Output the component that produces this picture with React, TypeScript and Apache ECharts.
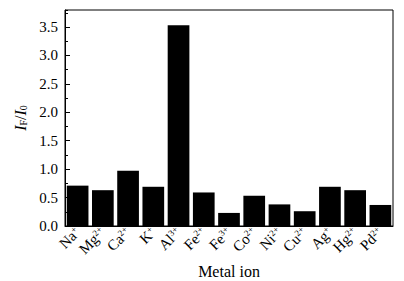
import React, { useEffect, useRef } from "react";
import * as echarts from "echarts";

const ions = ["Na", "Mg", "Ca", "K", "Al", "Fe", "Fe", "Co", "Ni", "Cu", "Ag", "Hg", "Pd"];
const charges = ["+", "2+", "2+", "+", "3+", "2+", "3+", "2+", "2+", "2+", "+", "2+", "2+"];
const ratios = [0.71, 0.63, 0.97, 0.69, 3.53, 0.59, 0.23, 0.53, 0.38, 0.26, 0.69, 0.63, 0.37];
const yMax = 3.8;

const FONT = "'Liberation Serif', 'DejaVu Serif', serif";

export default function App() {
  const ref = useRef<HTMLDivElement>(null);
  useEffect(() => {
    if (!ref.current) return;
    const chart = echarts.init(ref.current, undefined, { renderer: "svg" });
    const cats = ions.map((n, i) => `${n}|${charges[i]}`);
    chart.setOption({
      animation: false,
      grid: {
        left: 65, right: 11, top: 10, bottom: 55,
        show: true, borderColor: "#000", borderWidth: 1,
        containLabel: false, outerBoundsMode: "none",
      },
      xAxis: {
        type: "category",
        data: cats,
        name: "Metal ion",
        nameLocation: "middle",
        nameGap: 35,
        nameTextStyle: { fontFamily: FONT, fontSize: 16, color: "#000" },
        axisLine: { lineStyle: { color: "#000", width: 1 } },
        axisTick: { show: false },
        axisLabel: {
          rotate: 45,
          margin: 4,
          interval: 0,
          fontFamily: FONT,
          fontSize: 15,
          color: "#000",
          formatter: (v: string) => {
            const [n, c] = v.split("|");
            return `{b|${n}}{s|${c}}`;
          },
          rich: {
            b: { fontFamily: FONT, fontSize: 15, color: "#000", verticalAlign: "bottom" },
            s: { fontFamily: FONT, fontSize: 9, color: "#000", verticalAlign: "top" },
          },
        },
      },
      yAxis: [
        {
          type: "value",
          min: 0,
          max: yMax,
          interval: 0.5,
          name: "{i|I}{sb|F}{n|/}{i|I}{sb|0}",
          nameLocation: "middle",
          nameGap: 35,
          nameRotate: 90,
          nameTextStyle: {
            rich: {
              i: { fontFamily: FONT, fontSize: 16, fontStyle: "italic", color: "#000", verticalAlign: "top" },
              n: { fontFamily: FONT, fontSize: 16, color: "#000", verticalAlign: "top" },
              sb: { fontFamily: FONT, fontSize: 10, color: "#000", verticalAlign: "bottom" },
            },
          },
          axisLine: { show: true, lineStyle: { color: "#000", width: 1 } },
          axisTick: { show: true, inside: true, length: 5, lineStyle: { color: "#000" } },
          splitLine: { show: false },
          axisLabel: {
            showMaxLabel: false,
            margin: 7,
            fontFamily: FONT,
            fontSize: 15,
            color: "#000",
            formatter: (v: number) => v.toFixed(1),
          },
        },
        {
          type: "value",
          min: 0,
          max: yMax,
          interval: 0.25,
          position: "left",
          axisLine: { show: false },
          axisTick: { show: true, inside: true, length: 3, lineStyle: { color: "#000" } },
          splitLine: { show: false },
          axisLabel: { show: false },
        },
      ],
      series: [
        {
          type: "bar",
          data: ratios,
          yAxisIndex: 0,
          barCategoryGap: "14%",
          itemStyle: { color: "#000" },
        },
      ],
    });
    return () => chart.dispose();
  }, []);
  return (
    <div
      ref={ref}
      style={{ position: "fixed", left: 0, top: 0, width: 404, height: 281, background: "#fff" }}
    />
  );
}
